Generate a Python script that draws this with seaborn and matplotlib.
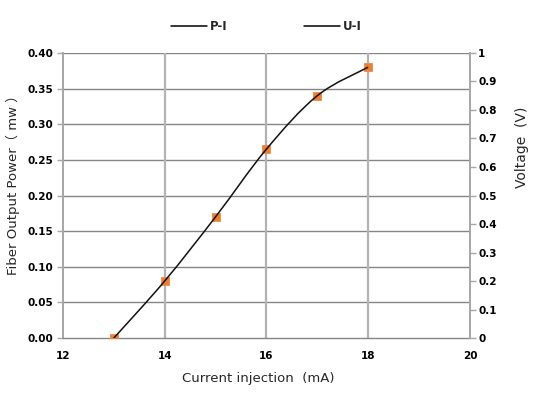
## Importing libraries
import numpy as np
import matplotlib
matplotlib.use("Agg")
import matplotlib.pyplot as plt
from matplotlib.path import Path
from matplotlib.patches import PathPatch
from matplotlib.lines import Line2D
import seaborn as sns

## Data
current = [13, 14, 15, 16, 17, 18]                      # mA
power = [0.00, 0.08, 0.17, 0.265, 0.34, 0.38]           # mW  (P-I)
voltage = [0.00, 0.20, 0.425, 0.6625, 0.85, 0.95]       # V   (U-I)
left_ticks = [0.00, 0.05, 0.10, 0.15, 0.20, 0.25, 0.30, 0.35, 0.40]
right_ticks = [0, 0.1, 0.2, 0.3, 0.4, 0.5, 0.6, 0.7, 0.8, 0.9, 1]
x_ticks = [12, 14, 16, 18, 20]

sns.set_style("white")
plt.rcParams['font.family'] = ['DejaVu Sans', 'Noto Sans CJK SC']

fig = plt.figure(figsize=(5.42, 3.95), dpi=100)
ax1 = fig.add_axes([0.116, 0.144, 0.751, 0.722])
ax2 = ax1.twinx()

## P-I points (orange squares)
sns.scatterplot(x=current, y=power, ax=ax1, marker='s', s=30, color='#ED7D31',
                edgecolor='#F08A45', linewidth=0.6, zorder=3)

## U-I smoothed line (Excel-style bezier through the points)
pts = np.column_stack([current, voltage])
ext = np.vstack([pts[0], pts, pts[-1]])
verts = [tuple(pts[0])]
codes = [Path.MOVETO]
for i in range(len(pts) - 1):
    p0, p1, p2, p3 = ext[i], ext[i + 1], ext[i + 2], ext[i + 3]
    c1 = p1 + (p2 - p0) / 6
    c2 = p2 - (p3 - p1) / 6
    verts += [tuple(c1), tuple(c2), tuple(p2)]
    codes += [Path.CURVE4] * 3
ax2.add_patch(PathPatch(Path(verts, codes), fill=False, edgecolor='#111111', lw=1.1, zorder=4))

## Axes limits and ticks
ax1.set_xlim(12, 20)
ax1.set_ylim(0, 0.40)
ax2.set_ylim(0, 1)
ax1.set_xticks(x_ticks)
ax1.set_yticks(left_ticks)
ax1.set_yticklabels([f'{v:.2f}' for v in left_ticks])
ax2.set_yticks(right_ticks)
ax2.set_yticklabels([f'{v:g}' for v in right_ticks])

## Grid: horizontal dark gray, vertical light gray
for v in left_ticks[1:]:
    ax1.axhline(v, color='#858585', lw=1.0, zorder=1)
for v in x_ticks[1:-1]:
    ax1.axvline(v, color='#b3b3b3', lw=1.6, zorder=1)

for ax in (ax1, ax2):
    for s in ax.spines.values():
        s.set_visible(False)
ax1.spines['left'].set_visible(True)
ax1.spines['left'].set_color('#a6a6a6')
ax1.spines['left'].set_linewidth(1.4)
ax1.spines['bottom'].set_visible(True)
ax1.spines['bottom'].set_color('#858585')
ax1.spines['bottom'].set_linewidth(1.0)
ax2.spines['right'].set_visible(True)
ax2.spines['right'].set_color('#a6a6a6')
ax2.spines['right'].set_linewidth(1.4)

tick_font = dict(labelsize=7.5, colors='black')
ax1.tick_params(axis='y', direction='out', length=4, width=1, color='#a6a6a6', pad=3, **tick_font)
ax1.tick_params(axis='x', length=0, pad=9, **tick_font)
ax2.tick_params(axis='y', direction='out', length=4, width=1, color='#a6a6a6', pad=2, **tick_font)
for lbl in ax1.get_xticklabels() + ax1.get_yticklabels() + ax2.get_yticklabels():
    lbl.set_fontweight('semibold')

ax1.set_xlabel('Current injection  (mA)', fontsize=9.5)
ax1.xaxis.set_label_coords(0.479, -0.119)
ax1.set_ylabel('Fiber Output Power（ mw ）', fontsize=9.5)
ax1.yaxis.set_label_coords(-0.106, 0.55)
ax2.set_ylabel('Voltage  (V)', fontsize=10)
ax2.yaxis.set_label_coords(1.111, 0.67)

## Legend (both series shown as black lines)
handles = [Line2D([0], [0], color='black', lw=1.1), Line2D([0], [0], color='black', lw=1.1)]
fig.legend(handles, ['P-I', 'U-I'], loc='center', bbox_to_anchor=(0.492, 0.932), ncol=2,
           frameon=False, handlelength=3.0, columnspacing=6.5, handletextpad=0.3,
           prop={'weight': 'semibold', 'size': 8.5})

fig.savefig('out.png', dpi=100)
